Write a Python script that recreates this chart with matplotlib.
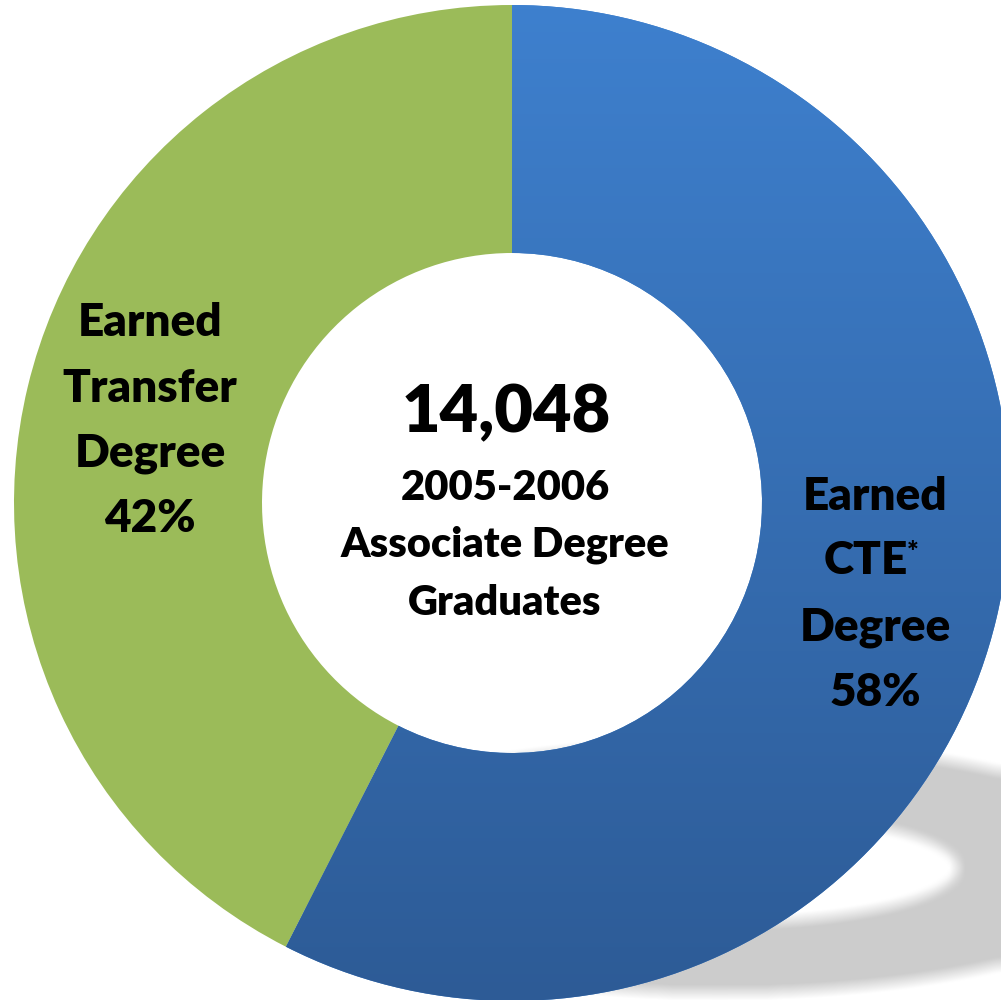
import numpy as np
import matplotlib
matplotlib.use("Agg")
import matplotlib.pyplot as plt

labels = ["Earned CTE* Degree", "Earned Transfer Degree"]
shares = [57.5, 42.5]
pct_labels = ["58%", "42%"]
total = "14,048"
center_lines = ["2005-2006", "Associate Degree", "Graduates"]

blue_top = "#3E80CE"
blue_bottom = "#2D5B96"
green = "#9BBB59"

plt.rcParams['font.family'] = ['Lato', 'DejaVu Sans']

W, H = 1001, 1000
fig = plt.figure(figsize=(W / 100, H / 100), dpi=100)
ax = fig.add_axes([0, 0, 1, 1])

cx, cy, R = 512, 497, 498
hole = 250

# soft shadow under the ring (bottom right)
yy, xx = np.mgrid[0:H, 0:W]
sx, sy = 720, 868
d_out = ((xx - sx) / 440) ** 2 + ((yy - sy) / 125) ** 2
d_in = ((xx - sx) / 238) ** 2 + ((yy - sy) / 55) ** 2
mask = ((d_out <= 1) & (d_in >= 1)).astype(float)
k = 8
for axis in (0, 1):
    pad = [(k, k) if a == axis else (0, 0) for a in (0, 1)]
    c = np.cumsum(np.pad(mask, pad, mode='edge'), axis=axis)
    if axis == 0:
        mask = (c[2 * k:, :] - c[:-2 * k, :]) / (2 * k)
    else:
        mask = (c[:, 2 * k:] - c[:, :-2 * k]) / (2 * k)
rgba = np.zeros((mask.shape[0], mask.shape[1], 4))
rgba[..., :3] = 0.8
rgba[..., 3] = mask
ax.imshow(rgba, extent=(0, W, 0, H), origin='upper', zorder=0)

wedges, _ = ax.pie(shares, colors=[blue_top, green], startangle=90, counterclock=False,
                   center=(cx, cy), radius=R, frame=True,
                   wedgeprops=dict(width=R - hole, linewidth=0))

# vertical gradient on the blue wedge
grad = np.linspace(0, 1, 256)[:, None]
c0 = np.array(matplotlib.colors.to_rgb(blue_top))
c1 = np.array(matplotlib.colors.to_rgb(blue_bottom))
img = c0[None, None, :] * (1 - grad[..., None]) + c1[None, None, :] * grad[..., None]
im = ax.imshow(img, extent=(cx - R, cx + R, cy - R, cy + R), origin='upper',
               zorder=wedges[0].get_zorder() + 0.1, aspect='auto')
im.set_clip_path(wedges[0])

ax.set_xlim(0, W)
ax.set_ylim(0, H)
ax.set_aspect('equal')
ax.axis('off')

tk = dict(ha='center', va='center', fontweight='heavy', color='black', zorder=5)
fs = 33

# right label
for txt, y in zip(["Earned", "CTE", "Degree", pct_labels[0]], [497, 561, 628, 692]):
    ax.text(875 if txt != "CTE" else 866, H - y, txt, fontsize=fs, **tk)
ax.text(913, H - 553, "*", fontsize=20, **tk)

# left label
for txt, y in zip(["Earned", "Transfer", "Degree", pct_labels[1]], [323, 388, 453, 518]):
    ax.text(150, H - y, txt, fontsize=fs, **tk)

# centre
ax.text(506, H - 413, total, fontsize=48, **tk)
for txt, y in zip(center_lines, [488, 545, 603]):
    ax.text(505, H - y, txt, fontsize=30, **tk)

fig.savefig("out.png", dpi=100)
